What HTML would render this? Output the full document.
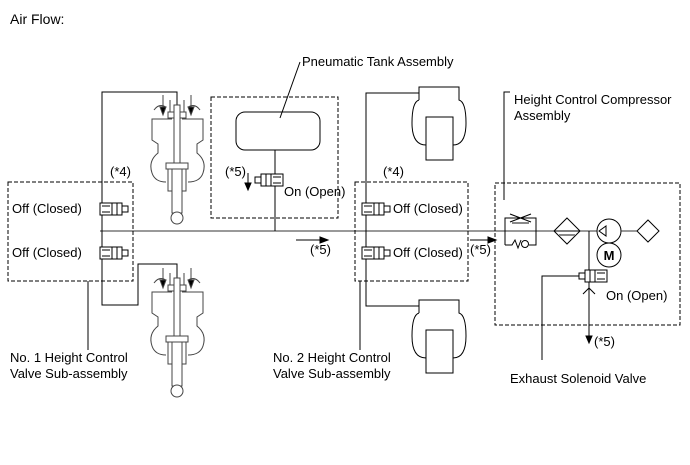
<!DOCTYPE html>
<html><head><style>html,body{margin:0;padding:0;background:#fff}svg{display:block}</style></head><body>
<svg width="690" height="465" viewBox="0 0 690 465" xmlns="http://www.w3.org/2000/svg" font-family="Liberation Sans, sans-serif" font-size="13" fill="none" stroke="#000" stroke-width="1">
<defs>
<g id="shock" stroke="#444">
 <line x1="163" y1="0" x2="163" y2="16"/><path d="M160,12 L163,20 L166,12Z" fill="#000"/>
 <line x1="191" y1="0" x2="191" y2="16"/><path d="M188,12 L191,20 L194,12Z" fill="#000"/>
 <path d="M154,15 Q159,8 166,12 M200,15 Q195,8 188,12"/>
 <line x1="170" y1="5" x2="170" y2="17"/><line x1="184" y1="5" x2="184" y2="17"/>
 <rect x="168" y="17" width="18" height="6" fill="#fff"/>
 <path d="M172,24 L152,24 L152,45 L158,49 L158,58 Q148,66 152,78 Q155,87 166,87 M182,24 L203,24 L203,45 L197,49 L197,58 Q207,66 203,78 Q200,87 188,87"/>
 <rect x="174" y="10" width="6" height="60" fill="#fff"/>
 <rect x="166" y="68" width="22" height="6" fill="#fff"/>
 <rect x="168" y="74" width="18" height="22"/>
 <rect x="172" y="74" width="10" height="44" fill="#fff"/>
 <circle cx="177" cy="123" r="6" fill="#fff"/>
</g>
<g id="valve">
 <rect x="0" y="0" width="12" height="12" fill="#fff"/>
 <line x1="2" y1="3" x2="10" y2="3"/><line x1="2" y1="9" x2="10" y2="9"/>
 <rect x="12" y="0" width="10" height="12" fill="#fff"/>
 <line x1="17" y1="0" x2="17" y2="12"/>
 <rect x="22" y="3" width="6" height="6" fill="#fff"/>
</g>
<g id="spring">
 <path d="M7,13 L7,0 L47,0 L47,13 Q54,15 54,36 Q54,58 41,58 M7,13 Q0,15 0,36 Q0,58 14,58"/>
 <rect x="14" y="30" width="27" height="43" fill="#fff"/>
</g>
</defs>

<text x="10" y="24" fill="#000" stroke="none" font-size="14">Air Flow:</text>

<line x1="100" y1="231" x2="637" y2="231" stroke="#333"/>

<!-- left assembly -->
<rect x="8" y="182" width="125" height="99" stroke-dasharray="4,2"/>
<polyline points="177,110 177,92 102,92 102,305 138,305 138,264 177,264 177,282"/>
<use href="#shock" transform="translate(0,95)"/>
<use href="#shock" transform="translate(0,268)"/>
<use href="#valve" x="100" y="203"/>
<use href="#valve" x="100" y="247"/>
<text x="12" y="213" fill="#000" stroke="none">Off (Closed)</text>
<text x="12" y="257" fill="#000" stroke="none">Off (Closed)</text>
<text x="110" y="176" fill="#000" stroke="none">(*4)</text>
<line x1="88" y1="281" x2="88" y2="350"/>
<text x="10" y="362" fill="#000" stroke="none">No. 1 Height Control</text>
<text x="10" y="378" fill="#000" stroke="none">Valve Sub-assembly</text>

<!-- pneumatic tank -->
<rect x="211" y="97" width="127" height="121" stroke-dasharray="4,2"/>
<rect x="236" y="112" width="84" height="38" rx="9"/>
<line x1="275" y1="150" x2="275" y2="231"/>
<use href="#valve" transform="translate(283,174) scale(-1,1)"/>
<line x1="248" y1="173" x2="248" y2="185"/><path d="M245,183 L248,190 L251,183Z" fill="#000"/>
<text x="225" y="176" fill="#000" stroke="none">(*5)</text>
<text x="284" y="196" fill="#000" stroke="none">On (Open)</text>
<line x1="300" y1="62" x2="280" y2="118"/>
<text x="302" y="66" fill="#000" stroke="none">Pneumatic Tank Assembly</text>

<!-- arrows -->
<line x1="296" y1="240" x2="322" y2="240"/><path d="M320,237 L328,240 L320,243Z" fill="#000"/>
<text x="310" y="254" fill="#000" stroke="none">(*5)</text>
<line x1="470" y1="240" x2="490" y2="240"/><path d="M488,237 L496,240 L488,243Z" fill="#000"/>
<text x="470" y="254" fill="#000" stroke="none">(*5)</text>

<!-- right assembly -->
<rect x="355" y="182" width="113" height="99" stroke-dasharray="4,2"/>
<polyline points="419,93 366,93 366,306 419,306"/>
<use href="#spring" x="412" y="87"/>
<use href="#spring" x="412" y="300"/>
<use href="#valve" x="362" y="203"/>
<use href="#valve" x="362" y="247"/>
<text x="393" y="213" fill="#000" stroke="none">Off (Closed)</text>
<text x="393" y="257" fill="#000" stroke="none">Off (Closed)</text>
<text x="383" y="176" fill="#000" stroke="none">(*4)</text>
<line x1="360" y1="281" x2="360" y2="350"/>
<text x="273" y="362" fill="#000" stroke="none">No. 2 Height Control</text>
<text x="273" y="378" fill="#000" stroke="none">Valve Sub-assembly</text>

<!-- compressor -->
<rect x="495" y="183" width="185" height="142" stroke-dasharray="4,2"/>
<polyline points="510,92 504,92 504,200"/>
<text x="514" y="104" fill="#000" stroke="none">Height Control Compressor</text>
<text x="514" y="120" fill="#000" stroke="none">Assembly</text>
<polyline points="505,245 505,218 536,218 536,245 529,245"/>
<path d="M505,245 L512,245 L515,240 L518,248 L521,240"/>
<circle cx="525" cy="244" r="3.5"/>
<line x1="510" y1="214" x2="531" y2="222"/><line x1="510" y1="222" x2="531" y2="214"/>
<line x1="512" y1="223" x2="529" y2="223" stroke="#888" stroke-width="2"/>
<path d="M567,218 L580,231 L567,244 L554,231Z" fill="#fff"/>
<line x1="559" y1="235" x2="575" y2="235" stroke="#888" stroke-width="2"/>
<line x1="554" y1="231" x2="580" y2="231"/>
<circle cx="609" cy="231" r="12" fill="#fff"/>
<path d="M599,231 L606,226 L606,236Z"/>
<circle cx="609" cy="255" r="12"/>
<text x="609" y="260" fill="#000" stroke="none" font-size="13" text-anchor="middle" font-weight="bold">M</text>
<line x1="621" y1="231" x2="637" y2="231" stroke="#333"/>
<path d="M648,220 L659,231 L648,242 L637,231Z" fill="#fff"/>
<line x1="589" y1="231" x2="589" y2="337"/>
<path d="M586,336 L589,343 L592,336Z" fill="#000"/>
<path d="M583,294 L589,288 L595,294"/>
<use href="#valve" transform="translate(607,270) scale(-1,1)"/>
<polyline points="579,276 542,276 542,360"/>
<text x="606" y="300" fill="#000" stroke="none">On (Open)</text>
<text x="594" y="346" fill="#000" stroke="none">(*5)</text>
<text x="510" y="383" fill="#000" stroke="none">Exhaust Solenoid Valve</text>
</svg>
</body></html>
